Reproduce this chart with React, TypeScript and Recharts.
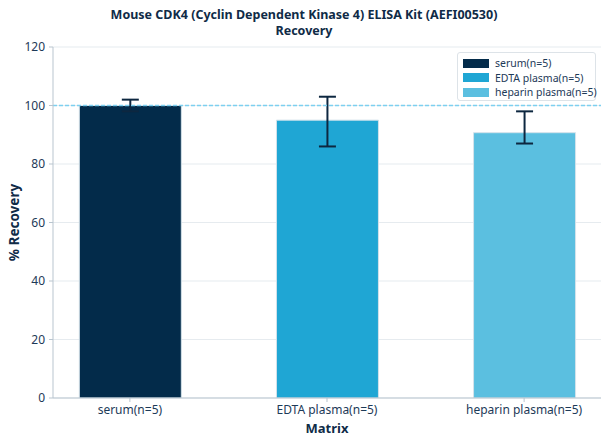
import React from "react";
import {
  BarChart,
  Bar,
  XAxis,
  YAxis,
  CartesianGrid,
  Cell,
  ErrorBar,
  ReferenceLine,
  Label,
} from "recharts";

const categories = ["serum(n=5)", "EDTA plasma(n=5)", "heparin plasma(n=5)"];
const recovery = [100, 95, 90.7];
const errLow = [2, 9, 3.7];
const errHigh = [2, 8, 7.3];
const colors = ["#032b4a", "#1fa6d4", "#5bbfe0"];
const yTicks = [0, 20, 40, 60, 80, 100, 120];
const targetRecovery = 100;

const data = categories.map((c, i) => ({
  x: i,
  name: c,
  value: recovery[i],
  err: [errLow[i], errHigh[i]],
}));

const FONT = "'Noto Sans', 'DejaVu Sans', sans-serif";
const TEXT = "#1d3a58";
const DASH = "#7dd0f0";

const LegendBox = () => (
  <div
    style={{
      position: "absolute",
      left: 457,
      top: 52,
      width: 139,
      height: 49,
      boxSizing: "border-box",
      border: "1px solid #dde3e8",
      borderRadius: 3,
      background: "#fff",
      fontFamily: FONT,
      fontSize: 10.5,
      color: TEXT,
      padding: "3px 0 0 5px",
      whiteSpace: "nowrap",
    }}
  >
    {categories.map((c, i) => (
      <div key={c} style={{ display: "flex", alignItems: "center", height: 14.5 }}>
        <span
          style={{
            display: "inline-block",
            flex: "none",
            width: 26,
            height: 9,
            background: colors[i],
            marginRight: 6,
          }}
        />
        <span>{c}</span>
      </div>
    ))}
  </div>
);

export default function App() {
  return (
    <div
      style={{
        position: "fixed",
        left: 0,
        top: 0,
        width: 608,
        height: 444,
        background: "#fff",
        fontFamily: FONT,
      }}
    >
      <BarChart
        width={608}
        height={444}
        data={data}
        margin={{ top: 47, right: 7, bottom: 0, left: 0 }}
        style={{ position: "absolute", left: 0, top: 0 }}
      >
        <CartesianGrid vertical={false} stroke="#e6ebef" strokeWidth={1.2} />
        <XAxis
          dataKey="x"
          type="number"
          domain={[-0.39, 2.39]}
          ticks={[0, 1, 2]}
          tickFormatter={(v) => categories[v] ?? ""}
          height={46}
          tickSize={4}
          tickMargin={3}
          stroke="#b9c5cf"
          tick={{ fill: TEXT, fontSize: 12, fontFamily: FONT }}
          allowDataOverflow
        >
          <Label
            value="Matrix"
            position="insideBottom"
            offset={11}
            style={{ fill: "#0f2b47", fontSize: 13, fontWeight: 700, fontFamily: FONT }}
          />
        </XAxis>
        <YAxis
          domain={[0, 120]}
          ticks={yTicks}
          width={53}
          tickSize={4}
          tickMargin={4}
          stroke="#b9c5cf"
          tick={{ fill: TEXT, fontSize: 12, fontFamily: FONT }}
          allowDataOverflow
        >
          <Label
            value="% Recovery"
            angle={-90}
            position="insideLeft"
            offset={14}
            style={{
              fill: "#0f2b47",
              fontSize: 13.5,
              fontWeight: 700,
              fontFamily: FONT,
              textAnchor: "middle",
            }}
          />
        </YAxis>
        <Bar
          dataKey="value"
          barSize={102}
          isAnimationActive={false}
          stroke="#d4e2ea"
          strokeWidth={1}
        >
          {data.map((d, i) => (
            <Cell key={d.name} fill={colors[i]} />
          ))}
          <ErrorBar
            dataKey="err"
            direction="y"
            width={8.5}
            stroke="#0d2740"
            strokeWidth={2}
            isAnimationActive={false}
          />
        </Bar>
        <ReferenceLine
          y={targetRecovery}
          stroke={DASH}
          strokeDasharray="4 2"
          strokeWidth={1.5}
          strokeOpacity={1}
        />
      </BarChart>
      <div
        style={{
          position: "absolute",
          left: 0,
          top: 8,
          width: 608,
          textAlign: "center",
          fontWeight: 700,
          fontSize: 12.5,
          lineHeight: "14px",
          height: 14,
          color: "#0f2b47",
        }}
      >
        Mouse CDK4 (Cyclin Dependent Kinase 4) ELISA Kit (AEFI00530)
      </div>
      <div
        style={{
          position: "absolute",
          left: 0,
          top: 24,
          width: 608,
          textAlign: "center",
          fontWeight: 700,
          fontSize: 12.5,
          lineHeight: "14px",
          height: 14,
          color: "#0f2b47",
        }}
      >
        Recovery
      </div>
      <LegendBox />
    </div>
  );
}
